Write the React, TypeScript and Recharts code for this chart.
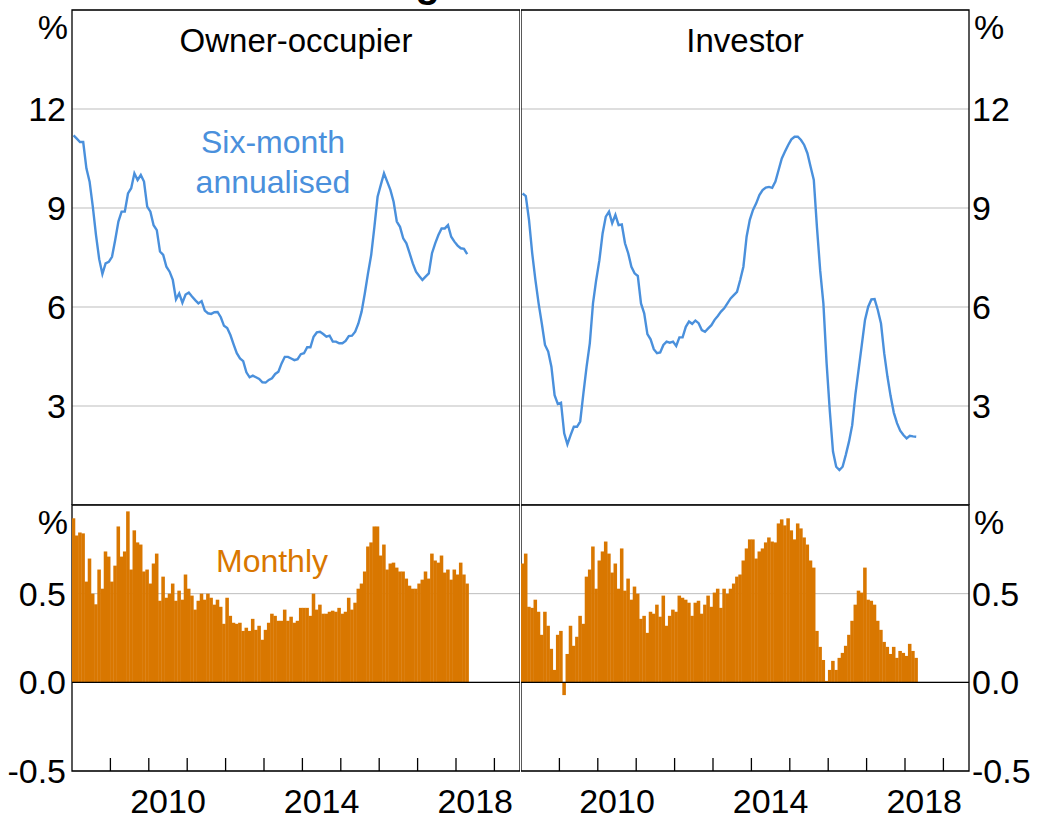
import React from 'react';
import {
  LineChart,
  Line,
  BarChart,
  Bar,
  XAxis,
  YAxis,
  CartesianGrid,
  ReferenceLine,
  ReferenceArea,
} from 'recharts';

const FONT = '"Liberation Sans", Arial, Helvetica, sans-serif';
const BLUE = '#4a90dc';
const ORANGE = '#d97700';
const GRID = '#bdbdbd';

// Months counted from Jan 2008 (index 0)
const xDomain: [number, number] = [0, 140];
const yearStartTicks = [12, 24, 36, 48, 60, 72, 84, 96, 108, 120, 132];
const yearLabels = ['2010', '2014', '2018'];
const yearLabelPositions = [30, 78, 126];
const topTicks = [3, 6, 9, 12, 15];
const bottomTicks = [-0.5, 0, 0.5, 1];

const panelTitles = ['Owner-occupier', 'Investor'];
const chartTitle = 'Housing Credit Growth';

// Six-month annualised growth, %
const ownerSixMonth = [
  11.2, 11.1, 11.0, 11.0, 10.2, 9.8, 9.04, 8.18, 7.45, 7.0,
  7.32, 7.37, 7.52, 8.03, 8.59, 8.89, 8.89, 9.44, 9.6, 10.05,
  9.85, 10.0, 9.8, 9.04, 8.89,
  8.48, 8.33, 7.68, 7.58, 7.22, 7.07, 6.82, 6.23, 6.41, 6.13,
  6.38, 6.44, 6.32, 6.21, 6.11, 6.18, 5.89, 5.81, 5.79, 5.84,
  5.85, 5.69, 5.43, 5.36, 5.15, 4.87, 4.6, 4.44, 4.36, 4.02,
  3.87, 3.92, 3.87, 3.82, 3.72, 3.71, 3.79, 3.84, 3.97, 4.04,
  4.29, 4.49, 4.49, 4.44, 4.39, 4.42, 4.57, 4.6, 4.78, 4.78,
  5.1, 5.23, 5.25, 5.18, 5.1, 5.13, 4.95, 4.95, 4.9, 4.9,
  4.97, 5.12, 5.13, 5.25, 5.5, 5.86, 6.41, 7.02, 7.58, 8.43,
  9.34, 9.7, 10.05, 9.8, 9.55, 9.19, 8.59, 8.43, 8.08, 7.93,
  7.63, 7.32, 7.07, 6.94, 6.82, 6.92, 7.02, 7.63, 7.93, 8.18,
  8.38, 8.38, 8.48, 8.13, 7.98, 7.86, 7.78, 7.76, 7.6,
];

const investorSixMonth = [
  9.44, 9.36, 8.64, 7.63, 6.82, 6.11, 5.5, 4.85, 4.65, 4.19,
  3.33, 3.06, 3.1, 2.17, 1.84, 2.12, 2.37, 2.37, 2.53, 3.38,
  4.19, 4.9, 6.11, 6.82, 7.42, 8.23, 8.74, 8.89, 8.54, 8.79,
  8.48, 8.5, 7.93, 7.63, 7.22, 7.02, 6.94, 6.11, 5.81, 5.18,
  5.02, 4.72, 4.6, 4.62, 4.85, 4.95, 4.92, 4.95, 4.82, 5.08,
  5.08, 5.4, 5.56, 5.49, 5.59, 5.51, 5.3, 5.25, 5.35, 5.45,
  5.61, 5.73, 5.86, 5.96, 6.11, 6.26, 6.36, 6.46, 6.82, 7.22,
  8.13, 8.64, 8.94, 9.14, 9.39, 9.54, 9.62, 9.64, 9.61, 9.8,
  10.15, 10.5, 10.71, 10.91, 11.08, 11.16, 11.16, 11.06, 10.91, 10.66,
  10.25, 9.85, 8.4, 7.1, 6.1, 4.3, 2.85, 1.62, 1.16, 1.06,
  1.16, 1.52, 1.92, 2.42, 3.35, 4.1, 4.85, 5.61, 6.01, 6.23,
  6.24, 5.91, 5.5, 4.6, 3.9, 3.3, 2.8, 2.48, 2.25, 2.12,
  2.02, 2.1, 2.08, 2.07,
];

// Monthly growth, %
const ownerMonthly = [
  0.925, 0.828, 0.845, 0.84, 0.568, 0.698, 0.5, 0.44, 0.636, 0.528,
  0.738, 0.709, 0.568, 0.658, 0.879, 0.709, 0.738, 0.964, 0.636, 0.857,
  0.789, 0.777, 0.625, 0.636, 0.557, 0.67, 0.726, 0.46, 0.596, 0.477,
  0.5, 0.557, 0.46, 0.517, 0.466, 0.608, 0.528, 0.489, 0.41, 0.46,
  0.5, 0.466, 0.5, 0.477, 0.438, 0.466, 0.426, 0.33, 0.477, 0.375,
  0.336, 0.33, 0.336, 0.29, 0.308, 0.29, 0.358, 0.296, 0.319, 0.24,
  0.296, 0.336, 0.387, 0.375, 0.347, 0.347, 0.41, 0.347, 0.37, 0.336,
  0.347, 0.42, 0.42, 0.42, 0.375, 0.5, 0.41, 0.438, 0.387, 0.387,
  0.398, 0.404, 0.398, 0.42, 0.387, 0.398, 0.477, 0.41, 0.449, 0.528,
  0.557, 0.625, 0.766, 0.789, 0.879, 0.879, 0.715, 0.777, 0.636, 0.67,
  0.675, 0.647, 0.625, 0.625, 0.585, 0.545, 0.528, 0.528, 0.557, 0.579,
  0.625, 0.585, 0.726, 0.687, 0.675, 0.715, 0.619, 0.636, 0.579, 0.636,
  0.608, 0.675, 0.608, 0.557,
];

const investorMonthly = [
  0.67, 0.726, 0.426, 0.42, 0.466, 0.398, 0.268, 0.398, 0.319, 0.189,
  0.07, 0.268, 0.29, -0.072, 0.16, 0.319, 0.206, 0.257, 0.375, 0.33,
  0.596, 0.636, 0.766, 0.528, 0.687, 0.738, 0.794, 0.726, 0.619, 0.67,
  0.528, 0.755, 0.517, 0.585, 0.466, 0.54, 0.5, 0.358, 0.375, 0.279,
  0.398, 0.387, 0.438, 0.37, 0.489, 0.319, 0.375, 0.41, 0.398, 0.489,
  0.477, 0.466, 0.449, 0.375, 0.449, 0.46, 0.387, 0.438, 0.489, 0.426,
  0.506, 0.528, 0.42, 0.528, 0.5, 0.528, 0.557, 0.596, 0.608, 0.687,
  0.755, 0.806, 0.806, 0.698, 0.738, 0.755, 0.789, 0.817, 0.794, 0.789,
  0.896, 0.919, 0.885, 0.925, 0.857, 0.806, 0.896, 0.868, 0.817, 0.777,
  0.687, 0.647, 0.29, 0.2, 0.126, 0.008, 0.07, 0.121, 0.07, 0.138,
  0.166, 0.206, 0.268, 0.347, 0.438, 0.517, 0.506, 0.647, 0.466, 0.46,
  0.438, 0.347, 0.296, 0.228, 0.2, 0.16, 0.2, 0.138, 0.177, 0.166,
  0.149, 0.217, 0.177, 0.138,
];

const toSeries = (vals: number[]) => vals.map((v, i) => ({ t: i + 0.5, v }));

const makeYTick = (top: number, fmt: (v: number) => string, pctShift: number) =>
  function YTick(props: any) {
    const { x, y, payload, textAnchor } = props;
    const v = payload.value;
    const isPct = v === top;
    return (
      <text
        x={x + (isPct ? pctShift : 0)}
        y={y + (isPct ? 17 : 0)}
        dy="0.355em"
        textAnchor={textAnchor}
        fill="#000"
        fontSize={34}
        fontFamily={FONT}
      >
        {isPct ? '%' : fmt(v)}
      </text>
    );
  };

const XTick = (props: any) => {
  const { x, y, payload } = props;
  const v = payload.value;
  const li = yearLabelPositions.indexOf(v);
  if (li >= 0) {
    return (
      <text x={x} y={y + 42} textAnchor="middle" fill="#000" fontSize={34} fontFamily={FONT}>
        {yearLabels[li]}
      </text>
    );
  }
  return <line x1={x} x2={x} y1={y} y2={y - 13} stroke="#000" strokeWidth={1.3} />;
};

// One month is 448 px / 140 months = 3.2 px wide; draw each bar full-width
// (plus a hair of overlap) around the centre that Recharts computes.
const MonthBar = (props: any) => {
  const { x, y, width, height, fill } = props;
  if (x == null || y == null || !height) return null;
  const cx = x + width / 2;
  const w = 3.55;
  const top = Math.min(y, y + height);
  const h = Math.abs(height);
  return <rect x={cx - w / 2} y={top} width={w} height={h} fill={fill} />;
};

const topFmt = (v: number) => String(v);
const bottomFmt = (v: number) => v.toFixed(1);

function TopPanel({ values, side }: { values: number[]; side: 'left' | 'right' }) {
  const isLeft = side === 'left';
  const data = toSeries(values);
  return (
    <LineChart
      width={isLeft ? 520 : 516}
      height={505}
      data={data}
      margin={{ top: 10, right: 0, bottom: 0, left: 0 }}
    >
      <CartesianGrid horizontal vertical={false} stroke={GRID} strokeWidth={1} />
      <XAxis type="number" dataKey="t" domain={xDomain} hide allowDataOverflow />
      <YAxis
        type="number"
        domain={[0, 15]}
        ticks={topTicks}
        interval={0}
        orientation={isLeft ? 'left' : 'right'}
        width={isLeft ? 72 : 68}
        axisLine={false}
        tickLine={false}
        tickSize={isLeft ? 6 : 3}
        tickMargin={0}
        tick={makeYTick(15, topFmt, 2)}
        allowDataOverflow
      />
      <ReferenceArea
        x1={0}
        x2={140}
        y1={0}
        y2={15}
        fill="none"
        stroke="#000"
        strokeWidth={1.3}
        ifOverflow="visible"
      />
      <Line
        type="linear"
        dataKey="v"
        stroke={BLUE}
        strokeWidth={2.4}
        dot={false}
        isAnimationActive={false}
      />
    </LineChart>
  );
}

function BottomPanel({ values, side }: { values: number[]; side: 'left' | 'right' }) {
  const isLeft = side === 'left';
  const data = toSeries(values);
  return (
    <BarChart
      width={isLeft ? 520 : 516}
      height={325}
      data={data}
      margin={{ top: 10, right: 0, bottom: 0, left: 0 }}
      barCategoryGap={0}
      barGap={0}
    >
      <CartesianGrid horizontal vertical={false} stroke={GRID} strokeWidth={1} />
      <XAxis
        type="number"
        dataKey="t"
        domain={xDomain}
        ticks={[...yearStartTicks, ...yearLabelPositions]}
        interval={0}
        height={49}
        axisLine={false}
        tickLine={false}
        tickSize={0}
        tickMargin={0}
        tick={XTick}
        allowDataOverflow
      />
      <YAxis
        type="number"
        domain={[-0.5, 1]}
        ticks={bottomTicks}
        interval={0}
        orientation={isLeft ? 'left' : 'right'}
        width={isLeft ? 72 : 68}
        axisLine={false}
        tickLine={false}
        tickSize={isLeft ? 6 : 3}
        tickMargin={0}
        tick={makeYTick(1, bottomFmt, 2)}
        allowDataOverflow
      />
      <ReferenceLine y={0} stroke="#000" strokeWidth={1.3} />
      <Bar dataKey="v" fill={ORANGE} shape={MonthBar} isAnimationActive={false} />
      <ReferenceArea
        x1={0}
        x2={140}
        y1={-0.5}
        y2={1}
        fill="none"
        stroke="#000"
        strokeWidth={1.3}
        ifOverflow="visible"
      />
    </BarChart>
  );
}

export default function App() {
  return (
    <div
      style={{
        position: 'absolute',
        left: 0,
        top: 0,
        width: 1037,
        height: 820,
        background: '#fff',
        overflow: 'hidden',
        fontFamily: FONT,
      }}
    >
      <div style={{ position: 'absolute', left: 0, top: 0 }}>
        <TopPanel values={ownerSixMonth} side="left" />
      </div>
      <div style={{ position: 'absolute', left: 521, top: 0 }}>
        <TopPanel values={investorSixMonth} side="right" />
      </div>
      <div style={{ position: 'absolute', left: 0, top: 495 }}>
        <BottomPanel values={ownerMonthly} side="left" />
      </div>
      <div style={{ position: 'absolute', left: 521, top: 495 }}>
        <BottomPanel values={investorMonthly} side="right" />
      </div>
      <svg
        width={1037}
        height={820}
        style={{ position: 'absolute', left: 0, top: 0, pointerEvents: 'none' }}
      >
        <text x={280} y={-3} fontSize={40} fontWeight="bold" fontFamily={FONT} fill="#000">
          {chartTitle}
        </text>
        <text x={296} y={52} textAnchor="middle" fontSize={33} fontFamily={FONT} fill="#000">
          {panelTitles[0]}
        </text>
        <text x={745} y={52} textAnchor="middle" fontSize={33} fontFamily={FONT} fill="#000">
          {panelTitles[1]}
        </text>
        <text x={273} y={153} textAnchor="middle" fontSize={32} fontFamily={FONT} fill={BLUE}>
          Six-month
        </text>
        <text x={273} y={193} textAnchor="middle" fontSize={32} fontFamily={FONT} fill={BLUE}>
          annualised
        </text>
        <text x={272} y={572} textAnchor="middle" fontSize={32} fontFamily={FONT} fill={ORANGE}>
          Monthly
        </text>
      </svg>
    </div>
  );
}
